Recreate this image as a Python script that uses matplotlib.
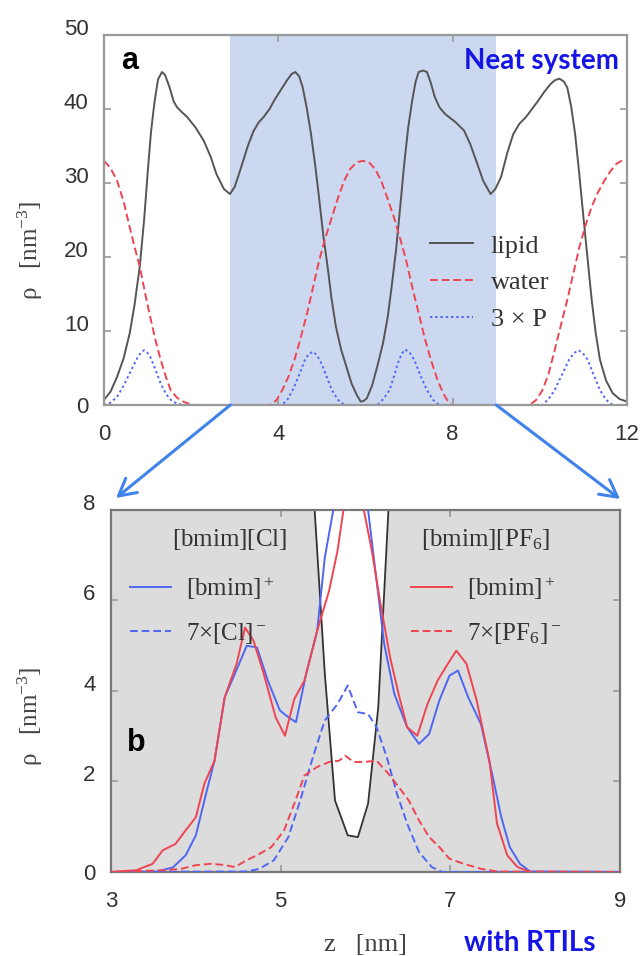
import numpy as np
import matplotlib
matplotlib.use("Agg")
import matplotlib.pyplot as plt
from matplotlib.patches import ConnectionPatch
import matplotlib.transforms as mtransforms

plt.rcParams['mathtext.fontset'] = 'stix'

# panel a: neat bilayer density profiles
z_lipid = [0.0, 0.15, 0.30, 0.45, 0.59, 0.70, 0.82, 0.92, 1.01, 1.08, 1.16, 1.24, 1.33,
           1.40, 1.50, 1.60, 1.68, 1.80, 1.91, 2.10, 2.29, 2.45, 2.58, 2.75, 2.89,
           3.0, 3.14, 3.30, 3.43, 3.55, 3.66, 3.80, 3.90, 4.05, 4.19, 4.30, 4.39,
           4.48, 4.56, 4.65, 4.75, 4.85, 4.94, 5.03, 5.13, 5.22, 5.32, 5.44, 5.56,
           5.68, 5.80, 5.89, 5.96, 6.03, 6.15, 6.27, 6.40, 6.51, 6.60, 6.70, 6.80,
           6.88, 6.98, 7.07, 7.15, 7.22, 7.32, 7.41, 7.50, 7.59, 7.70, 7.83, 8.05,
           8.26, 8.40, 8.54, 8.70, 8.87, 8.98, 9.11, 9.25, 9.39, 9.53, 9.68, 9.82,
           9.96, 10.10, 10.25, 10.35, 10.45, 10.55, 10.63, 10.72, 10.81, 10.90, 11.0,
           11.10, 11.19, 11.28, 11.38, 11.52, 11.67, 11.83, 12.0]
rho_lipid = [0.7, 1.8, 3.8, 6.3, 9.7, 13.5, 18.7, 25.0, 32.0, 37.0, 41.0, 44.0, 45.0,
             44.6, 43.0, 41.0, 40.2, 39.5, 38.9, 37.5, 35.7, 33.5, 31.2, 29.2, 28.5,
             29.5, 32.0, 35.0, 37.0, 38.2, 38.9, 40.0, 41.1, 42.5, 43.8, 44.7, 45.0,
             44.4, 42.9, 40.2, 36.6, 32.2, 27.7, 23.0, 18.7, 14.4, 10.6, 7.5, 5.2,
             2.9, 1.35, 0.45, 0.55, 0.9, 2.6, 5.2, 8.3, 11.9, 16.0, 20.9, 27.0,
             32.1, 37.5, 41.1, 43.7, 45.0, 45.2, 45.0, 43.5, 41.6, 40.2, 39.3, 38.3,
             37.1, 35.3, 33.0, 30.3, 28.5, 29.2, 30.8, 34.0, 36.6, 38.0, 38.9, 40.0,
             41.1, 42.3, 43.4, 43.9, 44.1, 43.7, 42.9, 40.3, 36.6, 31.5, 25.4,
             19.5, 14.2, 9.8, 6.1, 3.3, 1.6, 0.8, 0.45]

z_water = [0.0, 0.15, 0.30, 0.45, 0.59, 0.70, 0.82, 0.94, 1.06, 1.18, 1.30, 1.42, 1.53,
           1.67, 1.82, 1.95, 2.10, 3.80, 3.95, 4.09, 4.23, 4.37, 4.51, 4.66, 4.80,
           4.94, 5.08, 5.23, 5.37, 5.51, 5.65, 5.80, 5.94, 6.08, 6.22, 6.36, 6.50,
           6.65, 6.79, 6.93, 7.07, 7.22, 7.36, 7.50, 7.64, 7.78, 7.88, 7.97, 9.77,
           9.92, 10.06, 10.20, 10.34, 10.48, 10.63, 10.77, 10.91, 11.05, 11.19, 11.34,
           11.48, 11.62, 11.76, 11.88, 12.0]
rho_water = [33.0, 32.0, 30.3, 27.5, 24.0, 21.4, 18.7, 15.2, 11.9, 8.8, 6.1, 3.8, 2.0,
             1.0, 0.45, 0.15, 0.0, 0.0, 0.6, 2.0, 3.8, 6.1, 9.0, 12.4, 16.0,
             19.6, 22.6, 25.4, 28.0, 30.3, 31.9, 32.8, 33.0, 32.8, 31.9, 30.3, 28.0,
             25.4, 22.6, 19.6, 16.0, 12.4, 9.0, 6.1, 3.6, 1.6, 0.6, 0.0, 0.0,
             0.7, 2.0, 4.2, 7.4, 10.7, 14.2, 17.8, 21.4, 24.3, 26.8, 28.8,
             30.3, 31.6, 32.6, 33.0, 33.1]

z_phos = [0.0, 0.15, 0.30, 0.45, 0.59, 0.70, 0.78, 0.85, 0.92, 0.99, 1.06, 1.18, 1.30,
          1.42, 1.53, 1.67, 1.82, 4.09, 4.23, 4.37, 4.50, 4.61, 4.70, 4.80, 4.90,
          4.99, 5.11, 5.23, 5.37, 5.51, 6.27, 6.41, 6.55, 6.65, 6.74, 6.83, 6.91,
          7.01, 7.12, 7.26, 7.41, 7.55, 7.69, 10.06, 10.20, 10.34, 10.50, 10.67,
          10.78, 10.89, 11.0, 11.10, 11.24, 11.38, 11.52, 11.67, 12.0]
rho_phos = [0.0, 0.3, 1.1, 2.6, 4.3, 5.6, 6.5, 7.1, 7.4, 7.1, 6.5, 4.8, 2.9,
            1.5, 0.7, 0.2, 0.0, 0.0, 0.9, 2.5, 4.4, 6.1, 6.9, 7.2, 6.6,
            5.6, 3.8, 2.0, 0.7, 0.0, 0.0, 0.8, 2.0, 3.8, 5.6, 6.9, 7.5,
            7.1, 6.1, 4.0, 2.0, 0.7, 0.0, 0.0, 0.8, 2.0, 4.0, 6.1,
            7.0, 7.4, 6.9, 6.1, 4.0, 2.0, 0.7, 0.0, 0.0]

zoom_lo, zoom_hi = 2.9, 9.0

# panel b: ionic liquid profiles inside the bilayer
z_lip_b = [5.32, 5.40, 5.52, 5.64, 5.79, 5.91, 6.03, 6.15, 6.27, 6.34]
rho_lip_b = [12.0, 8.0, 4.38, 1.58, 0.81, 0.77, 1.51, 3.64, 8.0, 12.0]

z_cl_cat = [3.0, 3.54, 3.73, 3.88, 4.0, 4.12, 4.22, 4.34, 4.46, 4.60, 4.72, 4.85, 4.99,
            5.09, 5.18, 5.30, 5.43, 5.52, 5.62, 5.75, 5.90, 6.03, 6.13, 6.22, 6.34,
            6.49, 6.63, 6.75, 6.87, 6.99, 7.09, 7.21, 7.36, 7.50, 7.60, 7.70, 7.82,
            7.94, 9.0]
rho_cl_cat = [0.0, 0.01, 0.1, 0.37, 0.81, 1.73, 2.46, 3.86, 4.38, 5.0, 4.96, 4.22, 3.57,
              3.42, 3.31, 4.38, 5.33, 6.95, 8.0, 10.5, 10.8, 8.0, 6.44, 5.04, 3.93,
              3.2, 2.83, 3.05, 3.79, 4.34, 4.45, 3.86, 3.27, 2.10, 1.21, 0.55, 0.18,
              0.01, 0.0]

z_pf_cat = [3.0, 3.30, 3.49, 3.61, 3.76, 3.88, 4.0, 4.10, 4.22, 4.34, 4.48, 4.58, 4.68,
            4.80, 4.94, 5.05, 5.16, 5.28, 5.43, 5.57, 5.67, 5.74, 5.86, 5.98, 6.08,
            6.17, 6.29, 6.39, 6.49, 6.61, 6.73, 6.85, 6.97, 7.07, 7.19, 7.31, 7.46,
            7.55, 7.67, 7.79, 7.94, 9.0]
rho_pf_cat = [0.0, 0.04, 0.18, 0.48, 0.62, 0.92, 1.21, 1.95, 2.46, 3.86, 4.6, 5.40, 5.11,
              4.38, 3.42, 3.01, 3.82, 4.23, 5.33, 6.21, 7.1, 8.0, 9.5, 8.0, 7.04,
              5.99, 4.74, 3.93, 3.2, 3.01, 3.71, 4.23, 4.60, 4.89, 4.60, 3.79, 2.46,
              1.07, 0.37, 0.11, 0.0, 0.0]

z_cl_an = [3.0, 4.60, 4.75, 4.92, 5.09, 5.23, 5.38, 5.52, 5.67, 5.79, 5.91, 6.03, 6.13,
           6.25, 6.37, 6.49, 6.63, 6.78, 6.90, 9.0]
rho_cl_an = [0.0, 0.01, 0.07, 0.26, 0.77, 1.58, 2.54, 3.35, 3.71, 4.12, 3.53, 3.49, 3.2,
             2.54, 1.73, 1.07, 0.44, 0.11, 0.0, 0.0]

z_pf_an = [3.0, 3.64, 3.83, 4.0, 4.17, 4.31, 4.46, 4.60, 4.75, 4.89, 5.04, 5.16, 5.28,
           5.43, 5.57, 5.69, 5.76, 5.86, 5.98, 6.13, 6.27, 6.39, 6.51, 6.63, 6.75,
           6.87, 6.99, 7.16, 7.36, 7.55, 9.0]
rho_pf_an = [0.0, 0.04, 0.07, 0.15, 0.18, 0.16, 0.11, 0.26, 0.40, 0.55, 0.92, 1.51, 2.13,
             2.32, 2.43, 2.46, 2.57, 2.43, 2.43, 2.46, 2.17, 1.88, 1.58, 1.14, 0.77,
             0.55, 0.29, 0.18, 0.07, 0.01, 0.0]

serif = 'Liberation Serif'
sans = 'Liberation Sans'
c_blue = '#4f66f2'
c_red = '#ef4452'
c_arrow = '#3f82ea'

fig = plt.figure(figsize=(6.44, 9.56), dpi=100)
ax_a = fig.add_axes([0.1615, 0.5764, 0.8121, 0.3870])
ax_b = fig.add_axes([0.1724, 0.0879, 0.7904, 0.3787])


def style_axes(ax, spine_col):
    for sp in ax.spines.values():
        sp.set_color(spine_col)
        sp.set_linewidth(1.6)
    ax.tick_params(direction='in', length=5, width=1.2, color='#999999',
                   top=True, right=True, labelsize=16, labelcolor='#333333', pad=11)
    for lab in ax.get_xticklabels() + ax.get_yticklabels():
        lab.set_family(sans)


# ---- panel a ----
ax_a.axvspan(zoom_lo, zoom_hi, color='#ccd8f0', lw=0, zorder=0)
ax_a.plot(z_lipid, rho_lipid, color='#555555', lw=1.4, label='lipid')
ax_a.plot(z_water, rho_water, color=c_red, lw=1.4, ls=(0, (4, 2)), label='water')
ax_a.plot(z_phos, rho_phos, color=c_blue, lw=1.4, ls=(0, (1.2, 1.5)), label='3 × P')
ax_a.set_xlim(0, 12)
ax_a.set_ylim(0, 50)
ax_a.set_xticks([0, 4, 8, 12])
ax_a.set_yticks([0, 10, 20, 30, 40, 50])
style_axes(ax_a, '#999999')
ax_a.tick_params(axis='x', pad=14)

leg = ax_a.legend(loc='upper left', bbox_to_anchor=(0.623, 0.462), frameon=False,
                  prop={'family': serif, 'size': 19}, handlelength=1.65,
                  handletextpad=0.65, labelspacing=0.5, borderpad=0, borderaxespad=0)
for t in leg.get_texts():
    t.set_color('#333333')

ax_a.text(0.032, 0.93, 'a', transform=ax_a.transAxes, fontsize=22, fontweight='bold',
          family=sans, va='center', ha='left')
ax_a.text(0.985, 0.93, 'Neat system', transform=ax_a.transAxes, fontsize=20,
          fontweight='bold', family='Lato', color='#1515e6', va='center', ha='right')

# ---- panel b ----
ax_b.set_facecolor('#dcdcdc')
ax_b.fill_between(z_lip_b, rho_lip_b, 12, color='white', lw=0, zorder=1)
ax_b.plot(z_lip_b, rho_lip_b, color='#333333', lw=1.3, zorder=2)
ax_b.plot(z_cl_cat, rho_cl_cat, color=c_blue, lw=1.4, zorder=3)
ax_b.plot(z_pf_cat, rho_pf_cat, color=c_red, lw=1.4, zorder=3)
ax_b.plot(z_cl_an, rho_cl_an, color=c_blue, lw=1.4, ls=(0, (4, 2)), zorder=3)
ax_b.plot(z_pf_an, rho_pf_an, color=c_red, lw=1.4, ls=(0, (4, 2)), zorder=3)
ax_b.set_xlim(3, 9)
ax_b.set_ylim(0, 8)
ax_b.set_xticks([3, 5, 7, 9])
ax_b.set_yticks([0, 2, 4, 6, 8])
style_axes(ax_b, '#777777')
ax_b.tick_params(axis='x', pad=14)

lab_kw = dict(family=serif, fontsize=18, color='#333333', ha='center', va='center')
ax_b.text(4.40, 7.34, r'$\mathregular{[bmim][Cl]}$', **lab_kw)
ax_b.text(7.41, 7.34, r'$\mathregular{[bmim][PF_6]}$', **lab_kw)

h1, = ax_b.plot([], [], color=c_blue, lw=1.4)
h2, = ax_b.plot([], [], color=c_blue, lw=1.4, ls=(0, (4, 2)))
h3, = ax_b.plot([], [], color=c_red, lw=1.4)
h4, = ax_b.plot([], [], color=c_red, lw=1.4, ls=(0, (4, 2)))
leg_kw = dict(loc='upper left', frameon=False, prop={'family': serif, 'size': 18},
              handlelength=1.64, handletextpad=0.6, labelspacing=0.75,
              borderpad=0, borderaxespad=0)
leg_cl = ax_b.legend([h1, h2], [r'$\mathregular{[bmim]^+}$', r'$\mathregular{7{\times}[Cl]^-}$'],
                     bbox_to_anchor=(0.037, 0.82), **leg_kw)
ax_b.add_artist(leg_cl)
leg_pf = ax_b.legend([h3, h4], [r'$\mathregular{[bmim]^+}$', r'$\mathregular{7{\times}[PF_6]^-}$'],
                     bbox_to_anchor=(0.589, 0.82), **leg_kw)
for lg in (leg_cl, leg_pf):
    for t in lg.get_texts():
        t.set_color('#333333')

ax_b.text(0.032, 0.355, 'b', transform=ax_b.transAxes, fontsize=22, fontweight='bold',
          family=sans, va='center', ha='left')

# nudge the non-zero y tick labels up a little
shift = mtransforms.ScaledTranslation(0, 0.08, fig.dpi_scale_trans)
for ax in (ax_a, ax_b):
    for tick in ax.yaxis.get_major_ticks()[1:]:
        tick.label1.set_transform(tick.label1.get_transform() + shift)

# axis labels
ylab = r'ρ   [nm$\mathregular{^{-3}}$]'
fig.text(30 / 644, 1 - 250 / 956, ylab, rotation=90,
         family=serif, fontsize=18, color='#444444', ha='center', va='center')
fig.text(30 / 644, 1 - 716 / 956, ylab, rotation=90,
         family=serif, fontsize=18, color='#444444', ha='center', va='center')
fig.text(366 / 644, 1 - 945 / 956, 'z   [nm]', family=serif, fontsize=19,
         color='#444444', ha='center', va='center')
fig.text(530 / 644, 1 - 943 / 956, 'with RTILs', family='Lato', fontweight='bold',
         fontsize=20, color='#1515e6', ha='center', va='center')

# arrows from the shaded slab to the zoomed panel
for z0, tip in ((zoom_lo, (116, 956 - 498)), (zoom_hi, (620, 956 - 499))):
    con = ConnectionPatch(xyA=(z0, 0), coordsA=ax_a.transData,
                          xyB=tip, coordsB='figure pixels',
                          arrowstyle='->,head_length=0.55,head_width=0.3',
                          mutation_scale=22, color=c_arrow, lw=2.2)
    fig.add_artist(con)

fig.savefig('out.png', dpi=100)
